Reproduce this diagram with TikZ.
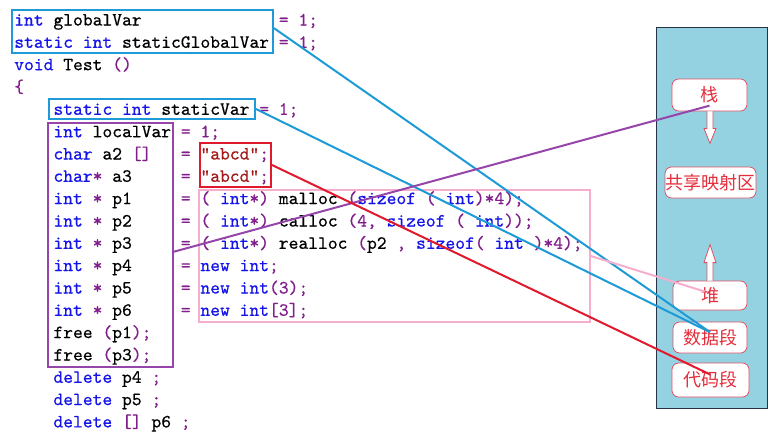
\documentclass[tikz,border=0pt]{standalone}
\usepackage{fontspec}
\newfontfamily\cjk{Noto Sans CJK SC}
\newfontfamily\codefont{lmmono10-regular}[Extension=.otf, FakeBold=0.5]
\usetikzlibrary{fit,calc}
\definecolor{kwblue}{RGB}{20,20,235}
\definecolor{opp}{RGB}{130,30,140}
\definecolor{strred}{RGB}{165,25,25}
\definecolor{cyanc}{RGB}{30,155,215}
\definecolor{purplec}{RGB}{150,70,170}
\definecolor{redc}{RGB}{225,25,45}
\definecolor{pinkc}{RGB}{245,175,205}
\definecolor{panelfill}{RGB}{148,210,226}
\definecolor{panelborder}{RGB}{40,50,70}
\definecolor{memred}{RGB}{220,80,100}
\definecolor{memtext}{RGB}{230,45,60}
\newcommand\kw[1]{\textcolor{kwblue}{#1}}
\newcommand\op[1]{\textcolor{opp}{#1}}
\newcommand\strc[1]{\textcolor{strred}{#1}}
\newlength\cw
\setlength\cw{7.35pt}
\newcommand\sk[1]{\hspace*{#1\cw}}
\tikzset{
  codeline/.style={anchor=base west, inner sep=0pt, font=\fontsize{14}{17}\selectfont\codefont\frenchspacing},
  codebox/.style={draw, inner sep=0pt, line width=1.5pt},
  membox/.style={draw=memred, fill=white, rounded corners=5pt, inner sep=0pt, line width=0.6pt,
    text=memtext, font=\cjk\fontsize{13.5}{13.5}\selectfont},
  blockarrow/.style={draw=memred, fill=white, line width=0.6pt, line join=miter},
  link/.style={line width=1.5pt},
}
\begin{document}
\begin{tikzpicture}[x=0.75pt,y=-0.75pt]
\useasboundingbox (0,0) rectangle (779,436);
\fill[white] (0,0) rectangle (779,436);
% code
\node[codeline] (l0) at (14,25.5) {\kw{int}~globalVar\sk{14}\op{=~1;}};
\node[codeline] (l1) at (14,47.8) {\kw{static~int}~staticGlobalVar~\op{=~1;}};
\node[codeline] (l2) at (14,70.2) {\kw{void}~Test~\op{()}};
\node[codeline] (l3) at (14,92.5) {\op{\{}};
\node[codeline] (l4) at (14,114.8) {\sk{4}\kw{static~int}~staticVar~\op{=~1;}};
\node[codeline] (l5) at (14,137.2) {\sk{4}\kw{int}~localVar~\op{=~1;}};
\node[codeline] (l6) at (14,159.5) {\sk{4}\kw{char}~a2~\op{[]}\sk{3}\op{=}~\strc{"abcd"}\op{;}};
\node[codeline] (l7) at (14,181.8) {\sk{4}\kw{char}\op{*}~a3\sk{5}\op{=}~\strc{"abcd"}\op{;}};
\node[codeline] (l8) at (14,204.1) {\sk{4}\kw{int}~\op{*}~p1\sk{5}\op{=~(}~\kw{int}\op{*)}~malloc~\op{(}\kw{sizeof}~\op{(}~\kw{int}\op{)*4);}};
\node[codeline] (l9) at (14,226.5) {\sk{4}\kw{int}~\op{*}~p2\sk{5}\op{=~(}~\kw{int}\op{*)}~calloc~\op{(4,}~\kw{sizeof}~\op{(}~\kw{int}\op{));}};
\node[codeline] (l10) at (14,248.8) {\sk{4}\kw{int}~\op{*}~p3\sk{5}\op{=~(}~\kw{int}\op{*)}~realloc~\op{(}p2~\op{,}~\kw{sizeof}\op{(}~\kw{int}~\op{)*4);}};
\node[codeline] (l11) at (14,271.1) {\sk{4}\kw{int}~\op{*}~p4\sk{5}\op{=}~\kw{new~int}\op{;}};
\node[codeline] (l12) at (14,293.5) {\sk{4}\kw{int}~\op{*}~p5\sk{5}\op{=}~\kw{new~int}\op{(3);}};
\node[codeline] (l13) at (14,315.8) {\sk{4}\kw{int}~\op{*}~p6\sk{5}\op{=}~\kw{new~int}\op{[3];}};
\node[codeline] (l14) at (14,338.1) {\sk{4}free~\op{(}p1\op{);}};
\node[codeline] (l15) at (14,360.5) {\sk{4}free~\op{(}p3\op{);}};
\node[codeline] (l16) at (14,382.8) {\sk{4}\kw{delete}~p4~\op{;}};
\node[codeline] (l17) at (14,405.1) {\sk{4}\kw{delete}~p5~\op{;}};
\node[codeline] (l18) at (14,427.4) {\sk{4}\kw{delete}~\op{[]}~p6~\op{;}};
% boxes around code
\node[codebox, draw=cyanc, fit={(12,10)(273,53)}] (gbox) {};
\node[codebox, draw=cyanc, fit={(49,99)(255,119)}] (svbox) {};
\node[codebox, draw=purplec, fit={(48,123)(173,367)}] (locbox) {};
\node[codebox, draw=redc, fit={(200,143)(271,187)}] (strbox) {};
\node[codebox, draw=pinkc, line width=1.2pt, fit={(199,190)(590,322)}] (dynbox) {};
% memory panel
\node[draw=panelborder, fill=panelfill, line width=0.6pt, inner sep=0pt, fit={(656,27)(767,408)}] (mem) {};
\node[membox, minimum width=56.25pt, minimum height=24pt] (stack) at (709.5,95) {栈};
\node[membox, minimum width=68.25pt, minimum height=23.25pt] (mmap) at (710.5,182.5) {共享映射区};
\node[membox, minimum width=55.5pt, minimum height=21.75pt] (heap) at (710,295.5) {堆};
\node[membox, minimum width=55.5pt, minimum height=23.25pt] (data) at (710,337.5) {数据段};
\node[membox, minimum width=57.75pt, minimum height=25.5pt] (code) at (710.5,380) {代码段};
% block arrows
\draw[blockarrow] (stack.south) ++(-2.5,0) -- ++(0,17) -- ++(-3,0) -- ++(6,15) -- ++(6,-15) -- ++(-3,0) -- ++(0,-17);
\draw[blockarrow] (heap.north) ++(-3,0) -- ++(0,-18) -- ++(-3,0) -- ++(6,-18) -- ++(6,18) -- ++(-3,0) -- ++(0,18);
% connectors
\coordinate (stackIn) at ([yshift=-8pt]stack.center);
\coordinate (dataIn) at ([yshift=4pt]data.center);
\coordinate (codeIn) at ([yshift=4pt]code.center);
\coordinate (heapIn) at ([shift={(-4pt,3pt)}]heap.center);
\coordinate (locOut) at ([yshift=-5pt]locbox.east);
\coordinate (gOut) at ([yshift=2.5pt]gbox.east);
\draw[link, cyanc] (gOut) -- (dataIn);
\draw[link, cyanc] (svbox.east) -- (dataIn);
\draw[link, purplec] (locOut) -- (stackIn);
\draw[link, redc] (strbox.east) -- (codeIn);
\draw[link, pinkc] (dynbox.east) -- (heapIn);
\end{tikzpicture}
\end{document}
